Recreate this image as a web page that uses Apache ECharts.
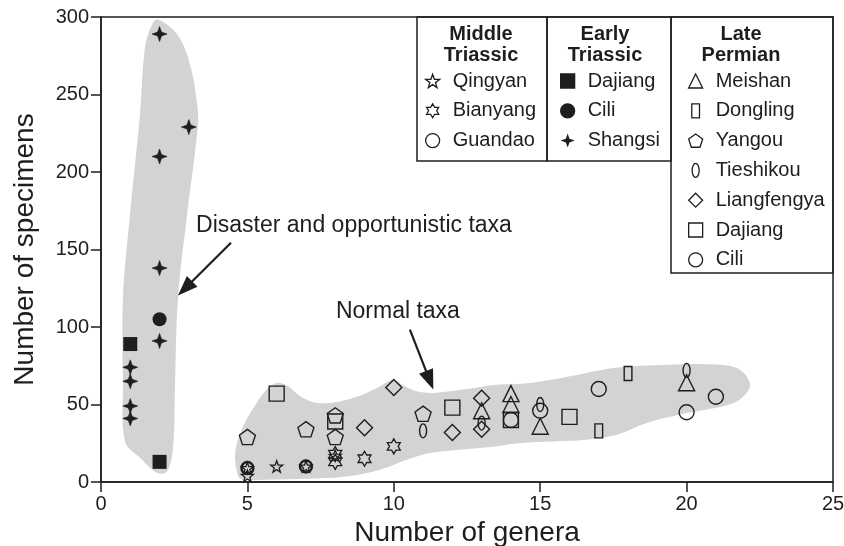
<!DOCTYPE html>
<html><head><meta charset="utf-8">
<script src="https://cdn.jsdelivr.net/npm/echarts@6/dist/echarts.min.js"></script>
<style>html,body{margin:0;padding:0;background:#fff}#c{width:844px;height:546px}</style>
</head><body><div id="c"></div>
<script>
// ---------------- data (number of genera, number of specimens) ----------------
// Middle Triassic
const qingyan   = [[5,4],[5,9],[6,10],[7,10],[8,17]];
const bianyang  = [[8,18],[8,13],[9,15],[10,23]];
const guandao   = [[5,9],[7,10]];
// Early Triassic
const dajiangET = [[1,89],[2,13]];
const ciliET    = [[2,105]];
const shangsi   = [[2,289],[3,229],[2,210],[2,138],[2,91],[1,74],[1,65],[1,49],[1,41]];
// Late Permian
const meishan     = [[13,46],[14,57],[14,50],[15,36],[20,64]];
const dongling    = [[17,33],[18,70]];
const yangou      = [[5,29],[7,34],[8,43],[8,29],[11,44]];
const tieshikou   = [[11,33],[13,38],[15,50],[20,72]];
const liangfengya = [[9,35],[10,61],[12,32],[13,54],[13,34]];
const dajiangLP   = [[6,57],[8,39],[12,48],[14,40],[16,42]];
const ciliLP      = [[14,40],[15,46],[17,60],[20,45],[21,55]];

// axis ticks
const xTicks = {min:0, max:25, interval:5};
const yTicks = {min:0, max:300, interval:50};

// grey field outlines (data units)
const blobDisaster = [[1.95,298.4],[2.60,288.8],[3.04,269.4],[3.31,239],[3.28,224.2],[2.94,172.6],[2.63,118.9],[2.53,64.7],[2.46,22.1],[2.25,6.7],[1.91,6.0],[1.33,15.7],[0.82,26],[0.75,64.7],[0.75,119],[0.99,172.6],[1.33,237],[1.50,280],[1.74,295]];
const blobNormal = [[4.69,3.6],[4.58,18.9],[4.85,35.7],[5.32,51.2],[5.66,59.6],[6.0,63.9],[6.39,61.7],[6.8,55.3],[7.37,51],[8.16,52],[8.95,56.4],[9.53,61.7],[9.98,66],[10.38,61.7],[10.78,58.5],[11.35,57.5],[12.37,59.6],[13.51,62.8],[14.65,63.9],[16.02,68.2],[17.5,73.6],[19.43,75.7],[21.14,75.7],[21.82,72.5],[22.16,63.9],[22.05,57.5],[21.6,51],[20.69,46.7],[19.77,43.5],[18.64,38.1],[17.61,30.5],[16.59,27.3],[15.45,26.2],[14.31,25.2],[13.51,23],[12.37,20.9],[11.24,18.7],[10.44,14.4],[9.53,7.9],[8.39,3.6],[6.68,1.9],[5.54,1.5],[4.86,1.5]];
const blobs = [blobDisaster, blobNormal];

// annotations (data units)
const annotTexts = ['Disaster and opportunistic taxa', 'Normal taxa'];
const annotTextPos = [[8.64,165.5],[10.14,109.6]];
const arrows = [[[4.44,154.4],[2.63,120.3]], [[10.55,98.3],[11.35,59.6]]];

// ---------------- styling ----------------
const FONT = '"Liberation Sans", Arial, Helvetica, sans-serif';
const INK = '#1e1e1e';
const STAR5 = 'path://M50,0 L61.76,33.82 L97.55,34.55 L69.02,56.18 L79.39,90.45 L50,70 L20.61,90.45 L30.98,56.18 L2.45,34.55 L38.24,33.82 Z';
const HEX = 'path://M50,0 L64.43,25 L93.3,25 L78.87,50 L93.3,75 L64.43,75 L50,100 L35.57,75 L6.7,75 L21.13,50 L6.7,25 L35.57,25 Z';
const CROSS4 = 'path://M50,0 L63,37 L100,50 L63,63 L50,100 L37,63 L0,50 L37,37 Z';
const PENT = 'path://M50,0 L97.55,34.55 L79.39,90.45 L20.61,90.45 L2.45,34.55 Z';
const NRECT = 'path://M0,0 L55,0 L55,100 L0,100 Z';
const ELLIPSE = 'path://M25,0 C38.8,0 50,22.4 50,50 C50,77.6 38.8,100 25,100 C11.2,100 0,77.6 0,50 C0,22.4 11.2,0 25,0 Z';

function sc(name, data, symbol, size, filled, bw) {
  return {
    type: 'scatter', name: name, data: data, symbol: symbol, symbolSize: size,
    symbolKeepAspect: true, z: 3, emphasis: {disabled: true},
    itemStyle: {color: filled ? INK : 'rgba(0,0,0,0)', borderColor: INK, borderWidth: bw, opacity: 1}
  };
}

const series = [
  sc('Qingyan', qingyan, STAR5, 12, false, 1.3),
  sc('Bianyang', bianyang, HEX, 15, false, 1.3),
  sc('Guandao', guandao, 'circle', 12, false, 2.4),
  sc('Dajiang ET', dajiangET, 'rect', 14, true, 0),
  sc('Cili ET', ciliET, 'circle', 14, true, 0),
  sc('Shangsi', shangsi, CROSS4, 15, true, 0.6),
  sc('Meishan', meishan, 'triangle', 16, false, 1.4),
  sc('Dongling', dongling, NRECT, 14, false, 1.4),
  sc('Yangou', yangou, PENT, 16, false, 1.4),
  sc('Tieshikou', tieshikou, ELLIPSE, 14, false, 1.4),
  sc('Liangfengya', liangfengya, 'diamond', 16, false, 1.4),
  sc('Dajiang LP', dajiangLP, 'rect', 15, false, 1.4),
  sc('Cili LP', ciliLP, 'circle', 15, false, 1.4)
];

series.unshift({
  type: 'custom', name: 'fields', silent: true, z: 1, clip: false,
  data: blobs.map((b, i) => [i, i]),
  renderItem: function (params, api) {
    const pts = blobs[params.dataIndex].map(p => api.coord(p));
    return {type: 'polygon', shape: {points: pts, smooth: 0.35}, style: {fill: '#d3d3d3', stroke: null}};
  }
});
series.push({
  type: 'custom', name: 'arrows', silent: true, z: 4, clip: false,
  data: arrows.map((a, i) => [i, i]),
  renderItem: function (params, api) {
    const a = api.coord(arrows[params.dataIndex][0]);
    const b = api.coord(arrows[params.dataIndex][1]);
    const dx = b[0] - a[0], dy = b[1] - a[1];
    const L = Math.sqrt(dx * dx + dy * dy), ux = dx / L, uy = dy / L;
    const hl = 20, hw = 7.5;
    const base = [b[0] - ux * hl, b[1] - uy * hl];
    return {type: 'group', children: [
      {type: 'line', shape: {x1: a[0], y1: a[1], x2: base[0] + ux * 2, y2: base[1] + uy * 2}, style: {stroke: INK, lineWidth: 2.2}},
      {type: 'polygon', shape: {points: [b, [base[0] - uy * hw, base[1] + ux * hw], [base[0] + uy * hw, base[1] - ux * hw]]}, style: {fill: INK}}
    ]};
  }
});
series.push({
  type: 'custom', name: 'labels', silent: true, z: 4, clip: false,
  data: annotTexts.map((t, i) => [i, i]),
  renderItem: function (params, api) {
    const p = api.coord(annotTextPos[params.dataIndex]);
    return {type: 'text', x: p[0], y: p[1], style: {text: annotTexts[params.dataIndex], fontSize: 23, fontFamily: FONT, fill: INK, align: 'center', verticalAlign: 'middle'}};
  }
});

function lg(left, names) {
  return {
    left: left, top: 71, orient: 'vertical', padding: 0, itemGap: 9.8,
    itemWidth: 14, itemHeight: 14, selectedMode: false,
    itemStyle: {borderWidth: 1.3},
    data: names.map(n => n === 'Shangsi' ? {name: n, itemStyle: {borderWidth: 0}} : n),
    formatter: n => n.replace(/ (ET|LP)$/, ''),
    textStyle: {fontSize: 20, fontFamily: FONT, color: INK, padding: [0, 0, 0, 8]}
  };
}

const axisCommon = {
  splitLine: {show: false},
  axisLine: {show: true, onZero: false, lineStyle: {color: INK, width: 1.5}},
  axisTick: {show: true, inside: false, length: 10, lineStyle: {color: INK, width: 1.5}},
  axisLabel: {fontSize: 20, color: INK, margin: 12, fontFamily: FONT},
  nameLocation: 'middle',
  nameTextStyle: {fontSize: 28, color: INK, fontFamily: FONT}
};

const boxStyle = {fill: 'rgba(0,0,0,0)', stroke: INK, lineWidth: 1.5};
const headStyle = (t, x) => ({type: 'text', x: x, y: 24, style: {text: t, fontSize: 20, fontWeight: 'bold', fontFamily: FONT, fill: INK, align: 'center', verticalAlign: 'top', lineHeight: 21}, z: 10});

const option = {
  backgroundColor: '#ffffff',
  animation: false,
  grid: {left: 101, right: 11, top: 17, bottom: 64, show: true, borderColor: INK, borderWidth: 1.5, containLabel: false, outerBoundsMode: 'none'},
  xAxis: Object.assign({type: 'value', name: 'Number of genera', nameGap: 32}, xTicks, axisCommon),
  yAxis: Object.assign({type: 'value', name: 'Number of specimens', nameGap: 62}, yTicks, axisCommon),
  legend: [
    lg(425, ['Qingyan', 'Bianyang', 'Guandao']),
    lg(560, ['Dajiang ET', 'Cili ET', 'Shangsi']),
    lg(688, ['Meishan', 'Dongling', 'Yangou', 'Tieshikou', 'Liangfengya', 'Dajiang LP', 'Cili LP'])
  ],
  graphic: [
    {type: 'rect', shape: {x: 417, y: 17, width: 130, height: 144}, style: boxStyle, z: 10},
    {type: 'rect', shape: {x: 547, y: 17, width: 124, height: 144}, style: boxStyle, z: 10},
    {type: 'rect', shape: {x: 671, y: 17, width: 162, height: 256}, style: boxStyle, z: 10},
    headStyle('Middle\nTriassic', 481),
    headStyle('Early\nTriassic', 605),
    headStyle('Late\nPermian', 741)
  ],
  series: series
};

const chart = echarts.init(document.getElementById('c'), null, {renderer: 'canvas'});
chart.setOption(option);
</script>
</body></html>
